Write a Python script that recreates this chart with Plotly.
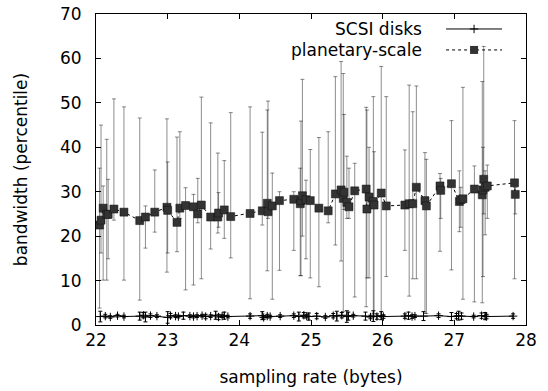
import plotly.graph_objects as go

# ---------------- data ----------------
plan_x = [22.05, 22.07, 22.10, 22.15, 22.17, 22.25, 22.39, 22.61, 22.69, 22.82,
          22.99, 23.00, 23.13, 23.17, 23.25, 23.36, 23.42, 23.47, 23.60, 23.70,
          23.71, 23.79, 23.88, 24.15, 24.32, 24.39, 24.40, 24.46, 24.56, 24.76,
          24.85, 24.86, 24.88, 24.93, 24.99, 25.11, 25.24, 25.34, 25.42, 25.45,
          25.46, 25.50, 25.53, 25.61, 25.77, 25.78, 25.81, 25.87, 25.88, 25.98,
          26.05, 26.31, 26.37, 26.42, 26.47, 26.59, 26.61, 26.80, 26.81, 26.96,
          27.07, 27.09, 27.12, 27.28, 27.39, 27.40, 27.41, 27.43, 27.46, 27.84,
          27.85]
plan_y = [22.5, 23.6, 26.3, 24.9, 24.9, 26.1, 25.4, 23.5, 24.3, 25.4,
          26.5, 25.8, 23.1, 26.3, 26.9, 26.6, 25.0, 27.0, 24.3, 24.3,
          25.2, 25.9, 24.4, 25.1, 25.7, 27.4, 25.5, 26.8, 28.0, 28.3,
          27.3, 28.0, 29.1, 28.2, 28.0, 26.3, 25.7, 29.5, 30.4, 28.5,
          29.9, 27.6, 26.6, 30.2, 30.6, 26.1, 28.8, 27.8, 27.0, 29.7,
          26.8, 27.0, 27.3, 27.3, 31.0, 28.0, 26.8, 31.3, 30.3, 31.8,
          27.8, 28.2, 28.4, 30.6, 29.3, 30.4, 32.8, 31.0, 31.3, 32.0,
          29.4]
plan_lo = [3.8, 16.2, 10.1, 10.1, 14.9, 23.6, 10.1, 5.6, 17.3, 20.9,
           11.9, 16.2, 16.5, 24.0, 7.9, 9.0, 23.0, 10.4, 17.1, 20.7,
           22.0, 19.5, 15.1, 5.9, 22.5, 12.2, 24.0, 5.8, 12.3, 16.8,
           11.1, 11.1, 20.0, 14.9, 10.6, 8.6, 23.0, 18.0, 14.4, 3.0,
           26.0, 24.0, 24.0, 6.3, 4.1, 10.6, 10.6, 2.6, 2.0, 1.7,
           10.9, 16.8, 6.5, 10.4, 10.4, 2.6, 2.6, 16.6, 24.0, 12.4,
           21.0, 22.0, 5.8, 5.2, 5.0, 10.9, 25.0, 20.3, 24.0, 10.4,
           25.0]
plan_hi = [35.3, 45.0, 31.3, 41.8, 32.8, 50.9, 49.1, 46.6, 26.8, 34.9,
           46.4, 36.7, 42.3, 43.5, 30.9, 29.4, 33.0, 51.3, 45.5, 38.7,
           29.8, 37.0, 47.8, 49.1, 43.4, 48.4, 50.4, 34.2, 30.0, 30.0,
           35.3, 45.9, 55.3, 32.6, 39.5, 42.2, 43.5, 55.9, 59.3, 56.6,
           47.4, 38.0, 35.3, 36.4, 49.0, 48.4, 40.0, 51.4, 39.0, 58.2,
           51.4, 39.4, 54.0, 48.0, 53.8, 38.8, 37.3, 34.1, 33.0, 46.0,
           34.7, 31.0, 53.5, 35.8, 54.8, 40.0, 62.7, 34.7, 36.0, 46.0,
           31.0]

scsi_x = [22.06, 22.13, 22.20, 22.30, 22.39, 22.61, 22.66, 22.69, 22.76, 22.85,
          23.00, 23.04, 23.11, 23.15, 23.22, 23.31, 23.36, 23.41, 23.48, 23.53,
          23.60, 23.67, 23.71, 23.76, 23.79, 23.84, 24.15, 24.32, 24.34, 24.39,
          24.43, 24.57, 24.76, 24.83, 24.90, 24.94, 24.97, 25.08, 25.20, 25.31,
          25.36, 25.43, 25.50, 25.52, 25.59, 25.76, 25.83, 25.87, 25.92, 25.98,
          26.01, 26.31, 26.36, 26.41, 26.45, 26.57, 26.78, 26.96, 27.03, 27.06,
          27.10, 27.27, 27.38, 27.43, 27.45, 27.82]
scsi_y = [1.9, 2.0, 1.8, 2.1, 1.9, 2.0, 2.2, 1.8, 2.1, 2.0,
          1.7, 2.1, 2.0, 1.9, 2.1, 2.0, 1.9, 2.0, 2.1, 1.9,
          2.0, 2.2, 1.8, 2.0, 2.1, 1.9, 2.0, 2.1, 1.7, 2.0,
          1.9, 2.0, 2.1, 1.9, 2.2, 2.0, 1.9, 2.0, 1.8, 2.1,
          2.0, 2.2, 1.9, 2.0, 2.1, 2.0, 1.8, 2.0, 1.9, 2.1,
          1.9, 2.0, 2.1, 1.9, 2.0, 2.0, 2.1, 1.9, 2.0, 2.1,
          2.0, 1.9, 2.1, 2.0, 1.9, 2.0]
scsi_err = [1.2, 0.4, 0.3, 0.3, 0.3, 0.9, 0.6, 1.1, 0.4, 0.3,
            1.3, 0.5, 0.3, 0.3, 0.8, 0.3, 0.3, 0.3, 0.3, 0.5,
            0.3, 0.9, 0.6, 0.3, 0.8, 0.3, 0.5, 0.9, 0.4, 0.4,
            0.3, 0.3, 0.4, 1.0, 0.6, 0.4, 0.8, 0.6, 0.3, 0.5,
            1.1, 0.6, 1.3, 0.9, 0.3, 0.9, 0.4, 1.2, 0.6, 0.9,
            0.4, 0.5, 0.8, 0.4, 0.3, 1.0, 0.4, 0.9, 0.6, 1.0,
            0.7, 0.3, 0.6, 0.8, 0.5, 0.5]

x_ticks = [22, 23, 24, 25, 26, 27, 28]
y_ticks = [0, 10, 20, 30, 40, 50, 60, 70]
series_names = ["SCSI disks", "planetary-scale"]

FONT = "DejaVu Sans"

# ---------------- figure ----------------
fig = go.Figure()

fig.add_trace(go.Scatter(
    x=plan_x, y=plan_y, mode="lines+markers", name=series_names[1],
    line=dict(color="black", width=1, dash="dot"),
    marker=dict(symbol="square", size=8, color="#333333",
                line=dict(color="#111111", width=0.5)),
    error_y=dict(type="data", symmetric=False,
                 array=[h - v for h, v in zip(plan_hi, plan_y)],
                 arrayminus=[v - l for v, l in zip(plan_y, plan_lo)],
                 color="rgba(0,0,0,0.45)", thickness=1, width=2),
    showlegend=False,
))

fig.add_trace(go.Scatter(
    x=scsi_x, y=scsi_y, mode="lines+markers", name=series_names[0],
    line=dict(color="black", width=1),
    marker=dict(symbol="cross-thin", size=6, color="black",
                line=dict(color="black", width=1)),
    error_y=dict(type="data", array=scsi_err, color="black",
                 thickness=1, width=2),
    showlegend=False,
))

# plot-area edges in window pixels (body margin removed below)
PL, PR, PT, PB = 95.5, 526, 14, 325.5
W, H = 548, 391

# ---- gnuplot-style key drawn on an overlay axis in pixel units ----
key_line_x = [446, 502]
key_y = [29, 50]
fig.add_trace(go.Scatter(
    x=key_line_x, y=[key_y[0]] * 2, xaxis="x2", yaxis="y2", mode="lines",
    line=dict(color="black", width=1), showlegend=False, hoverinfo="skip"))
fig.add_trace(go.Scatter(
    x=[sum(key_line_x) / 2], y=[key_y[0]], xaxis="x2", yaxis="y2", mode="markers",
    marker=dict(symbol="cross-thin", size=6, line=dict(color="black", width=1)),
    showlegend=False, hoverinfo="skip"))
fig.add_trace(go.Scatter(
    x=key_line_x, y=[key_y[1]] * 2, xaxis="x2", yaxis="y2", mode="lines",
    line=dict(color="black", width=1, dash="dot"), showlegend=False, hoverinfo="skip"))
fig.add_trace(go.Scatter(
    x=[sum(key_line_x) / 2], y=[key_y[1]], xaxis="x2", yaxis="y2", mode="markers",
    marker=dict(symbol="square", size=8, color="#333333"),
    error_y=dict(type="constant", value=3, color="rgba(0,0,0,0.45)", thickness=1, width=2),
    showlegend=False, hoverinfo="skip"))
for name, yy in zip(series_names, key_y):
    fig.add_annotation(x=424, y=yy, xref="x2", yref="y2", text=name,
                       showarrow=False, xanchor="right", yanchor="middle",
                       font=dict(family=FONT, size=17, color="black"))

axis_common = dict(showline=True, linecolor="black", linewidth=1, mirror="ticks",
                   ticks="inside", ticklen=5, tickcolor="black", showgrid=False,
                   zeroline=False, automargin=False, ticklabeloverflow="allow",
                   tickfont=dict(family=FONT, size=17, color="black"))

fig.update_layout(
    width=W, height=H,
    margin=dict(l=PL, r=W - PR, t=PT, b=H - PB, autoexpand=False),
    paper_bgcolor="white", plot_bgcolor="white",
    font=dict(family=FONT, size=17, color="black"),
    xaxis=dict(range=[22, 28], tickvals=x_ticks, ticklabelstandoff=0,
               title=dict(text="sampling rate (bytes)", standoff=21,
                          font=dict(family=FONT, size=17)),
               **axis_common),
    yaxis=dict(range=[0, 70], tickvals=y_ticks, ticklabelstandoff=10,
               title=dict(text="bandwidth (percentile)", standoff=28,
                          font=dict(family=FONT, size=17)),
               **axis_common),
    xaxis2=dict(overlaying="x", range=[PL, PR], visible=False, fixedrange=True),
    yaxis2=dict(overlaying="y", range=[PB, PT], visible=False, fixedrange=True),
)

fig.write_html("out.html", config={"displayModeBar": False},
               post_script="document.body.style.margin='0px';")
